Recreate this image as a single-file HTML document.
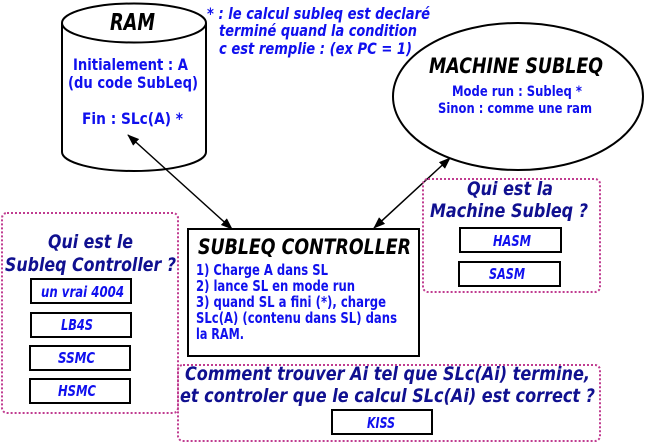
<!DOCTYPE html>
<html><head><meta charset="utf-8"><style>
html,body{margin:0;padding:0;background:#fff;}
svg{display:block;font-family:"DejaVu Sans","Liberation Sans",sans-serif;font-weight:bold;}
.b{fill:#1010ee;font-size:16px;}
.n{fill:#101090;font-style:italic;font-size:19px;font-weight:bold;}
.bi{fill:#1010ee;font-style:italic;font-size:15px;}
.dot{fill:none;stroke:#c03c90;stroke-width:2;stroke-dasharray:2 2;}
.bx{fill:#fff;stroke:#000;stroke-width:2;}
</style></head><body>
<svg width="645" height="443" viewBox="0 0 645 443">
<defs><marker id="a" markerWidth="12" markerHeight="9" refX="11" refY="4.5" orient="auto-start-reverse" markerUnits="userSpaceOnUse"><path d="M0,0 L12,4.5 L0,9 Z" fill="#000"/></marker></defs>
<!-- RAM cylinder -->
<path d="M62,23 L62,152 A72,19 0 0 0 206,152 L206,23" fill="#fff" stroke="#000" stroke-width="2"/>
<ellipse cx="134" cy="23" rx="72" ry="19.5" fill="#fff" stroke="#000" stroke-width="2"/>
<text x="110" y="30" font-size="23" font-style="italic" fill="#000" textLength="45" lengthAdjust="spacingAndGlyphs">RAM</text>
<text class="b" x="73" y="70" textLength="115" lengthAdjust="spacingAndGlyphs">Initialement : A</text>
<text class="b" x="68" y="88" textLength="130" lengthAdjust="spacingAndGlyphs">(du code SubLeq)</text>
<text class="b" x="82" y="124" textLength="101" lengthAdjust="spacingAndGlyphs">Fin  : SLc(A) *</text>
<text font-size="16" font-style="italic" fill="#1010ee" x="207" y="19" textLength="223" lengthAdjust="spacingAndGlyphs">* : le calcul subleq est declaré</text>
<text font-size="16" font-style="italic" fill="#1010ee" x="219" y="36" textLength="198" lengthAdjust="spacingAndGlyphs">terminé quand la condition</text>
<text font-size="16" font-style="italic" fill="#1010ee" x="219" y="54" textLength="193" lengthAdjust="spacingAndGlyphs">c est remplie : (ex PC = 1)</text>
<!-- Machine -->
<ellipse cx="518" cy="96.5" rx="125" ry="73.5" fill="#fff" stroke="#000" stroke-width="2"/>
<text x="429" y="73" font-size="21" font-style="italic" fill="#000" textLength="174" lengthAdjust="spacingAndGlyphs">MACHINE SUBLEQ</text>
<text x="452" y="96" font-size="14" fill="#1010ee" textLength="130" lengthAdjust="spacingAndGlyphs">Mode run : Subleq *</text>
<text x="438" y="113" font-size="14" fill="#1010ee" textLength="154" lengthAdjust="spacingAndGlyphs">Sinon : comme une ram</text>
<!-- arrows -->
<line x1="128" y1="135" x2="232" y2="229" stroke="#000" stroke-width="1.5" marker-start="url(#a)" marker-end="url(#a)"/>
<line x1="450" y1="158" x2="374" y2="228" stroke="#000" stroke-width="1.5" marker-start="url(#a)" marker-end="url(#a)"/>
<!-- right dotted -->
<rect class="dot" x="423" y="179" width="177" height="113" rx="5"/>
<text class="n" x="467" y="195" textLength="86" lengthAdjust="spacingAndGlyphs">Qui est la</text>
<text class="n" x="430" y="217" textLength="158" lengthAdjust="spacingAndGlyphs">Machine Subleq ?</text>
<rect class="bx" x="460" y="228" width="101" height="24"/>
<text class="bi" x="493" y="246" textLength="38" lengthAdjust="spacingAndGlyphs">HASM</text>
<rect class="bx" x="459" y="262" width="101" height="24"/>
<text class="bi" x="489" y="279" textLength="36" lengthAdjust="spacingAndGlyphs">SASM</text>
<!-- left dotted -->
<rect class="dot" x="2" y="213" width="176" height="200" rx="5"/>
<text class="n" x="48" y="248" textLength="85" lengthAdjust="spacingAndGlyphs">Qui est le</text>
<text class="n" x="5" y="271" textLength="171" lengthAdjust="spacingAndGlyphs">Subleq Controller ?</text>
<rect class="bx" x="31" y="279" width="100" height="24"/>
<text class="bi" x="41" y="297" textLength="83" lengthAdjust="spacingAndGlyphs">un vrai 4004</text>
<rect class="bx" x="31" y="313" width="100" height="24"/>
<text class="bi" x="61" y="330" textLength="32" lengthAdjust="spacingAndGlyphs">LB4S</text>
<rect class="bx" x="30" y="346" width="100" height="24"/>
<text class="bi" x="58" y="363" textLength="37" lengthAdjust="spacingAndGlyphs">SSMC</text>
<rect class="bx" x="30" y="379" width="100" height="24"/>
<text class="bi" x="58" y="396" textLength="38" lengthAdjust="spacingAndGlyphs">HSMC</text>
<!-- controller -->
<rect class="bx" x="188" y="229" width="231" height="127"/>
<text x="198" y="254" font-size="21" font-style="italic" fill="#000" textLength="213" lengthAdjust="spacingAndGlyphs">SUBLEQ CONTROLLER</text>
<g font-size="15" fill="#1010ee">
<text x="196" y="275" textLength="132" lengthAdjust="spacingAndGlyphs">1) Charge A dans SL</text>
<text x="196" y="291" textLength="159" lengthAdjust="spacingAndGlyphs">2) lance SL en mode run</text>
<text x="196" y="307" textLength="190" lengthAdjust="spacingAndGlyphs">3) quand SL a fini (*), charge</text>
<text x="196" y="323" textLength="201" lengthAdjust="spacingAndGlyphs">SLc(A) (contenu dans SL) dans</text>
<text x="196" y="339" textLength="48" lengthAdjust="spacingAndGlyphs">la RAM.</text>
</g>
<!-- bottom dotted -->
<rect class="dot" x="178" y="365" width="422" height="76" rx="5"/>
<text class="n" x="185" y="380" textLength="405" lengthAdjust="spacingAndGlyphs">Comment trouver Ai tel que SLc(Ai) termine,</text>
<text class="n" x="180" y="402" textLength="415" lengthAdjust="spacingAndGlyphs">et controler que le calcul SLc(Ai) est correct ?</text>
<rect class="bx" x="332" y="410" width="100" height="24"/>
<text class="bi" x="367" y="428" textLength="28" lengthAdjust="spacingAndGlyphs">KISS</text>
</svg>
</body></html>
